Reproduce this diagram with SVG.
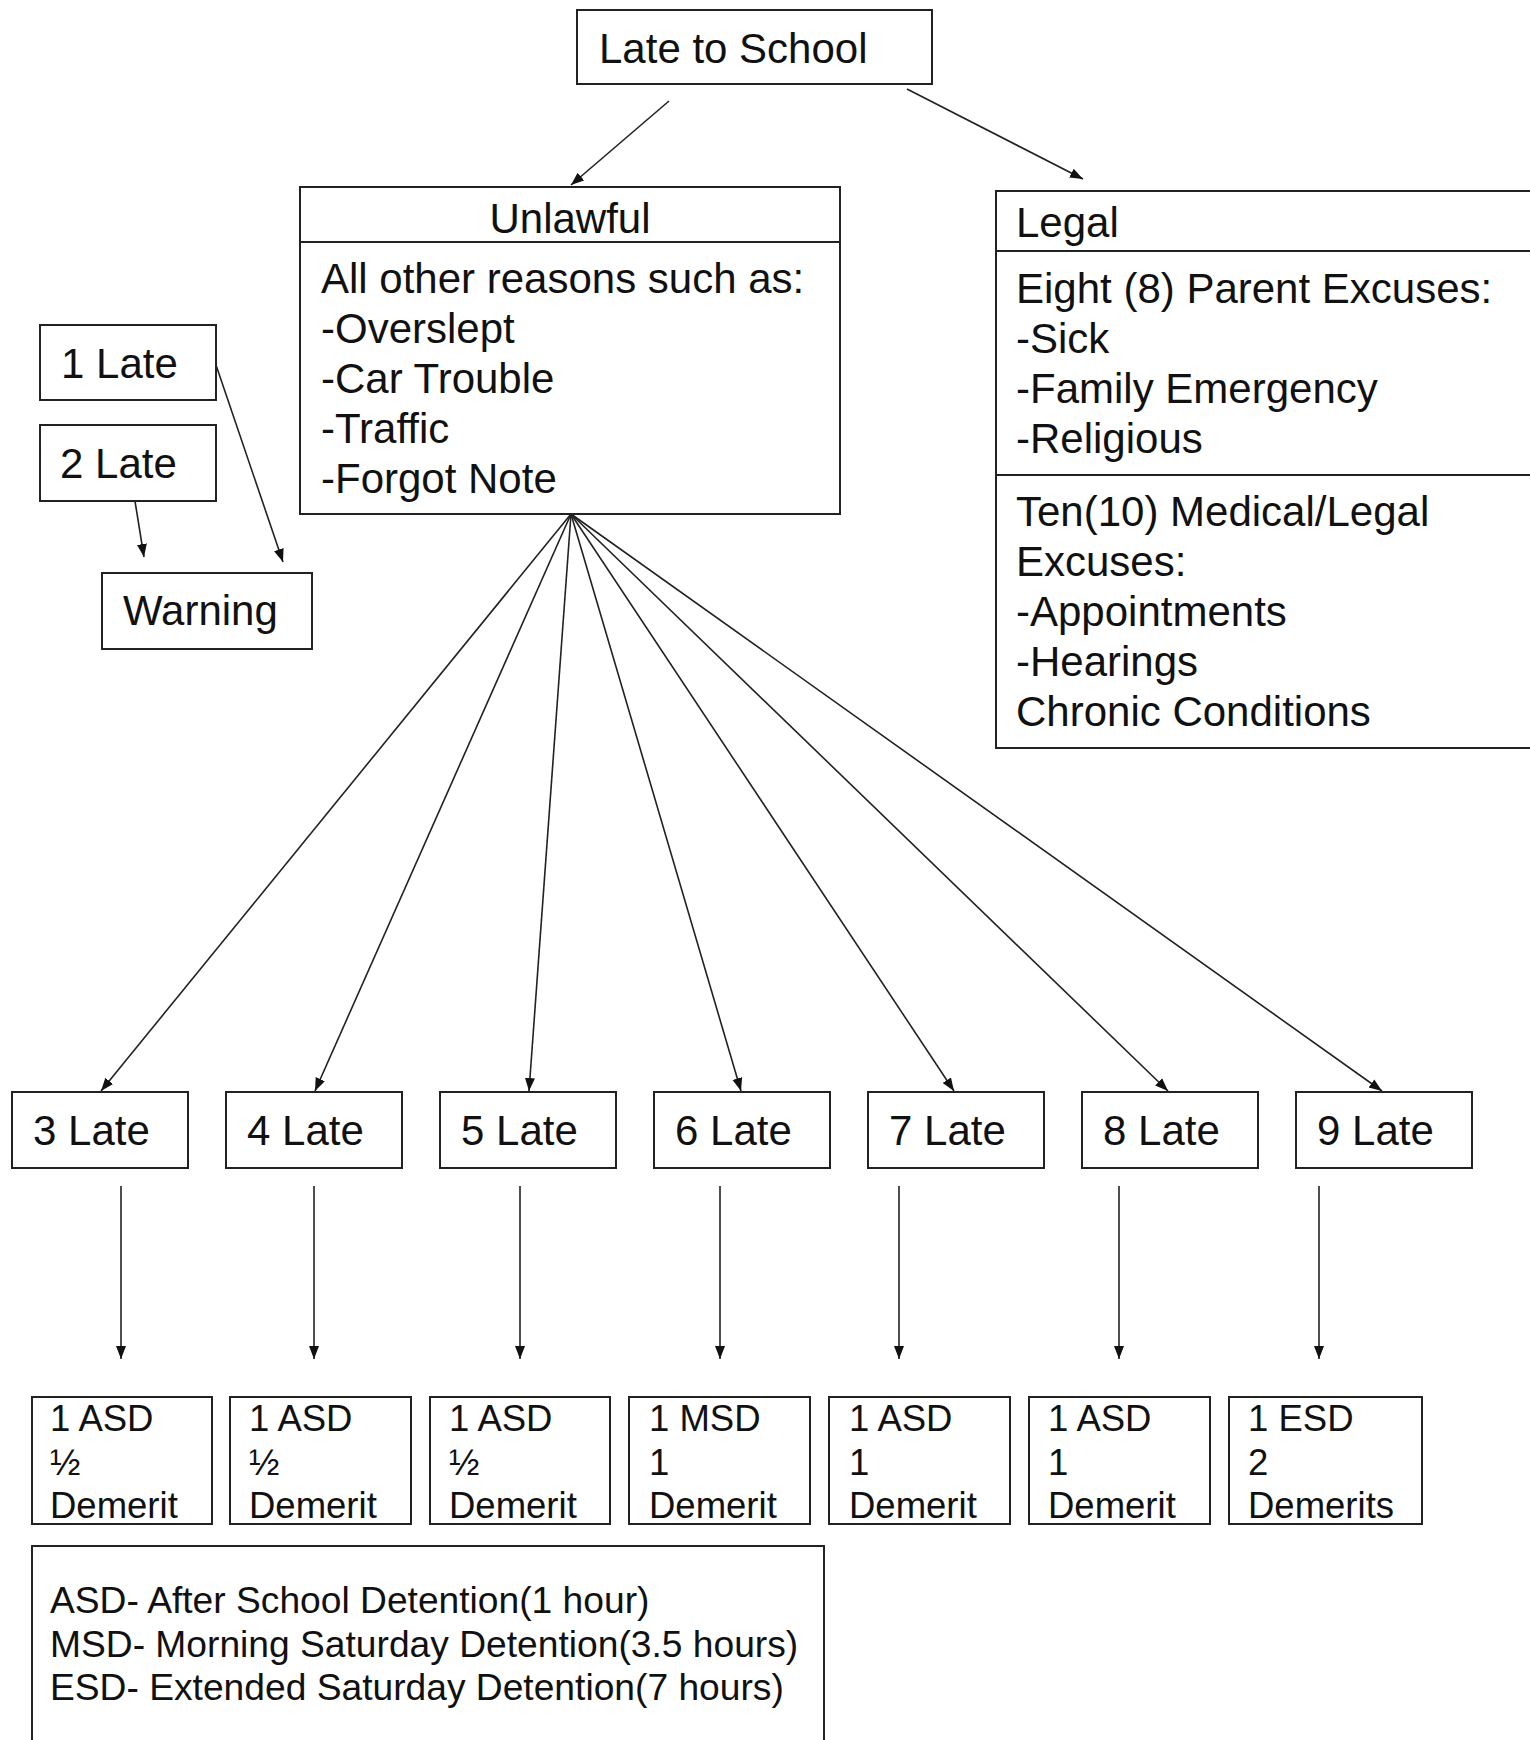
<svg xmlns="http://www.w3.org/2000/svg" width="1530" height="1740" viewBox="0 0 1530 1740">
<style>
.box{fill:#fff;stroke:#222;stroke-width:2}
.div{stroke:#222;stroke-width:2}
.t{font-family:"Liberation Sans",Arial,sans-serif;font-size:42px;fill:#111}
.s{font-family:"Liberation Sans",Arial,sans-serif;font-size:36.5px;fill:#111}
.l{font-family:"Liberation Sans",Arial,sans-serif;font-size:37.2px;fill:#111}
.c{stroke:#222;stroke-width:1.6;fill:none}
</style>
<defs>
<marker id="ah" markerUnits="userSpaceOnUse" markerWidth="14" markerHeight="12" refX="13" refY="6" orient="auto">
<path d="M0,1 L13,6 L0,11 Z" fill="#111"/>
</marker>
</defs>
<rect width="1530" height="1740" fill="#fff"/>
<g id="connectors">
<line class="c" x1="669" y1="101" x2="571" y2="185" marker-end="url(#ah)"/>
<line class="c" x1="907" y1="89" x2="1083" y2="179" marker-end="url(#ah)"/>
<line class="c" x1="216" y1="365" x2="283" y2="562" marker-end="url(#ah)"/>
<line class="c" x1="134" y1="495" x2="144" y2="557" marker-end="url(#ah)"/>
<line class="c" x1="571" y1="514" x2="101" y2="1091" marker-end="url(#ah)"/>
<line class="c" x1="571" y1="514" x2="315" y2="1091" marker-end="url(#ah)"/>
<line class="c" x1="571" y1="514" x2="529" y2="1091" marker-end="url(#ah)"/>
<line class="c" x1="571" y1="514" x2="741" y2="1091" marker-end="url(#ah)"/>
<line class="c" x1="571" y1="514" x2="954" y2="1091" marker-end="url(#ah)"/>
<line class="c" x1="571" y1="514" x2="1168" y2="1091" marker-end="url(#ah)"/>
<line class="c" x1="571" y1="514" x2="1382" y2="1091" marker-end="url(#ah)"/>
<line class="c" x1="121" y1="1186" x2="121" y2="1359" marker-end="url(#ah)"/>
<line class="c" x1="314" y1="1186" x2="314" y2="1359" marker-end="url(#ah)"/>
<line class="c" x1="520" y1="1186" x2="520" y2="1359" marker-end="url(#ah)"/>
<line class="c" x1="720" y1="1186" x2="720" y2="1359" marker-end="url(#ah)"/>
<line class="c" x1="899" y1="1186" x2="899" y2="1359" marker-end="url(#ah)"/>
<line class="c" x1="1119" y1="1186" x2="1119" y2="1359" marker-end="url(#ah)"/>
<line class="c" x1="1319" y1="1186" x2="1319" y2="1359" marker-end="url(#ah)"/>
</g>
<g id="late-to-school">
<rect class="box" x="577" y="10" width="355" height="74"/>
<text class="t" x="599" y="63">Late to School</text>
</g>
<g id="unlawful">
<rect class="box" x="300" y="187" width="540" height="327"/>
<line class="div" x1="300" y1="242" x2="840" y2="242"/>
<text class="t" x="570" y="233" text-anchor="middle">Unlawful</text>
<text class="t" x="321" y="293">All other reasons such as:</text>
<text class="t" x="321" y="343">-Overslept</text>
<text class="t" x="321" y="393">-Car Trouble</text>
<text class="t" x="321" y="443">-Traffic</text>
<text class="t" x="321" y="493">-Forgot Note</text>
</g>
<g id="legal">
<rect class="box" x="996" y="191" width="560" height="557"/>
<line class="div" x1="996" y1="251" x2="1540" y2="251"/>
<line class="div" x1="996" y1="475" x2="1540" y2="475"/>
<text class="t" x="1016" y="237">Legal</text>
<text class="t" x="1016" y="303">Eight (8) Parent Excuses:</text>
<text class="t" x="1016" y="353">-Sick</text>
<text class="t" x="1016" y="403">-Family Emergency</text>
<text class="t" x="1016" y="453">-Religious</text>
<text class="t" x="1016" y="526">Ten(10) Medical/Legal</text>
<text class="t" x="1016" y="576">Excuses:</text>
<text class="t" x="1016" y="626">-Appointments</text>
<text class="t" x="1016" y="676">-Hearings</text>
<text class="t" x="1016" y="726">Chronic Conditions</text>
</g>
<g id="late1">
<rect class="box" x="40" y="325" width="176" height="75"/>
<text class="t" x="61" y="378">1 Late</text>
</g>
<g id="late2">
<rect class="box" x="40" y="425" width="176" height="76"/>
<text class="t" x="60" y="478">2 Late</text>
</g>
<g id="warning">
<rect class="box" x="102" y="573" width="210" height="76"/>
<text class="t" x="123" y="625">Warning</text>
</g>
<g id="late3"><rect class="box" x="12" y="1092" width="176" height="76"/><text class="t" x="33" y="1145">3 Late</text></g>
<g id="late4"><rect class="box" x="226" y="1092" width="176" height="76"/><text class="t" x="247" y="1145">4 Late</text></g>
<g id="late5"><rect class="box" x="440" y="1092" width="176" height="76"/><text class="t" x="461" y="1145">5 Late</text></g>
<g id="late6"><rect class="box" x="654" y="1092" width="176" height="76"/><text class="t" x="675" y="1145">6 Late</text></g>
<g id="late7"><rect class="box" x="868" y="1092" width="176" height="76"/><text class="t" x="889" y="1145">7 Late</text></g>
<g id="late8"><rect class="box" x="1082" y="1092" width="176" height="76"/><text class="t" x="1103" y="1145">8 Late</text></g>
<g id="late9"><rect class="box" x="1296" y="1092" width="176" height="76"/><text class="t" x="1317" y="1145">9 Late</text></g>
<g id="pen3"><rect class="box" x="32" y="1397" width="180" height="127"/><text class="s" x="50" y="1431">1 ASD</text><text class="s" x="50" y="1475">½</text><text class="s" x="50" y="1518">Demerit</text></g>
<g id="pen4"><rect class="box" x="230" y="1397" width="181" height="127"/><text class="s" x="249" y="1431">1 ASD</text><text class="s" x="249" y="1475">½</text><text class="s" x="249" y="1518">Demerit</text></g>
<g id="pen5"><rect class="box" x="430" y="1397" width="180" height="127"/><text class="s" x="449" y="1431">1 ASD</text><text class="s" x="449" y="1475">½</text><text class="s" x="449" y="1518">Demerit</text></g>
<g id="pen6"><rect class="box" x="629" y="1397" width="181" height="127"/><text class="s" x="649" y="1431">1 MSD</text><text class="s" x="649" y="1475">1</text><text class="s" x="649" y="1518">Demerit</text></g>
<g id="pen7"><rect class="box" x="829" y="1397" width="181" height="127"/><text class="s" x="849" y="1431">1 ASD</text><text class="s" x="849" y="1475">1</text><text class="s" x="849" y="1518">Demerit</text></g>
<g id="pen8"><rect class="box" x="1029" y="1397" width="181" height="127"/><text class="s" x="1048" y="1431">1 ASD</text><text class="s" x="1048" y="1475">1</text><text class="s" x="1048" y="1518">Demerit</text></g>
<g id="pen9"><rect class="box" x="1229" y="1397" width="193" height="127"/><text class="s" x="1248" y="1431">1 ESD</text><text class="s" x="1248" y="1475">2</text><text class="s" x="1248" y="1518">Demerits</text></g>
<g id="legend">
<rect class="box" x="32" y="1546" width="792" height="220"/>
<text class="l" x="50" y="1613">ASD- After School Detention(1 hour)</text>
<text class="l" x="50" y="1657">MSD- Morning Saturday Detention(3.5 hours)</text>
<text class="l" x="50" y="1700">ESD- Extended Saturday Detention(7 hours)</text>
</g>
</svg>
